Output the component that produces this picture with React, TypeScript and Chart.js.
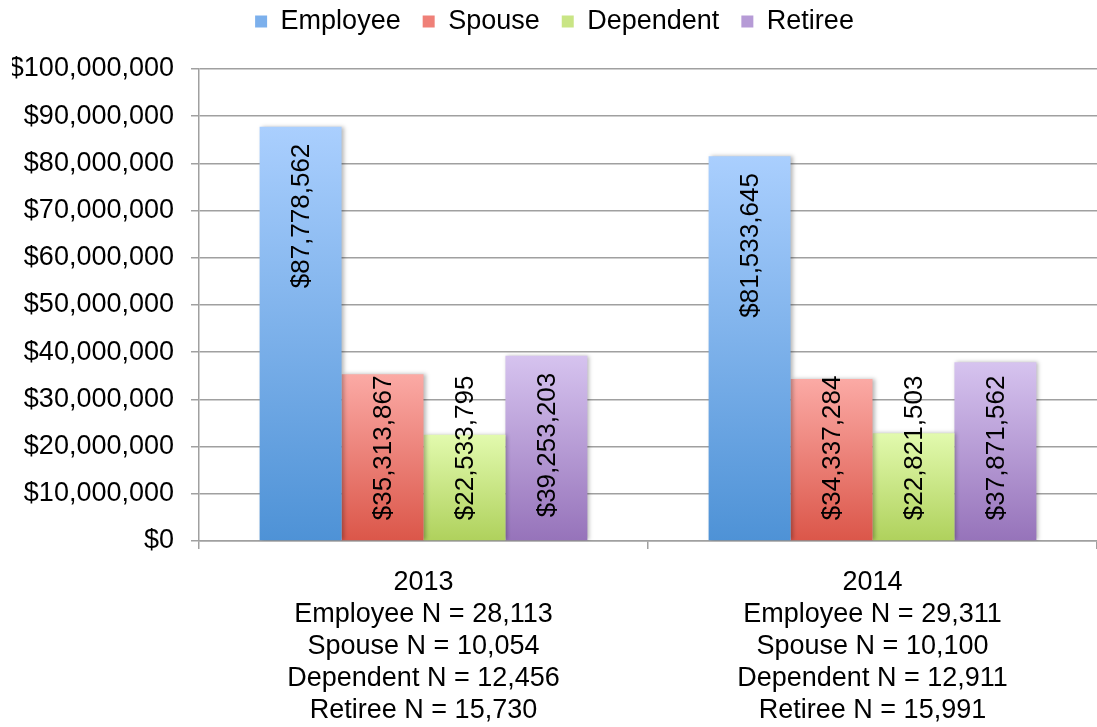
import React, { useEffect, useRef } from "react";
import { Chart, registerables } from "chart.js";

Chart.register(...registerables);

const years = ["2013", "2014"];
const employeeN = ["28,113", "29,311"];
const spouseN = ["10,054", "10,100"];
const dependentN = ["12,456", "12,911"];
const retireeN = ["15,730", "15,991"];

const seriesNames = ["Employee", "Spouse", "Dependent", "Retiree"];
const employee = [87778562, 81533645];
const spouse = [35313867, 34337284];
const dependent = [22533795, 22821503];
const retiree = [39253203, 37871562];

const gradTop = ["#aacffe", "#fbaaa5", "#e2faae", "#d6c3ef"];
const gradBottom = ["#4e92d6", "#db5649", "#afd15c", "#9673ba"];
const solid = ["#7cb0ec", "#ef8078", "#c9e585", "#b69bd6"];

const FONT = "'Liberation Sans', Arial, Helvetica, sans-serif";
const GRID = "#a0a0a0";

const fmtMoney = (v: number) => "$" + Math.round(v).toLocaleString("en-US");

export default function App() {
  const ref = useRef<HTMLCanvasElement | null>(null);

  useEffect(() => {
    const canvas = ref.current;
    if (!canvas) return;
    document.body.style.margin = "0";

    const labels = years.map((y, i) => [
      y,
      `Employee N = ${employeeN[i]}`,
      `Spouse N = ${spouseN[i]}`,
      `Dependent N = ${dependentN[i]}`,
      `Retiree N = ${retireeN[i]}`,
    ]);

    const values = [employee, spouse, dependent, retiree];

    const makeBg = (si: number) => (ctx: any) => {
      const chart = ctx.chart;
      const y = chart.scales?.y;
      if (!chart.chartArea || !y || ctx.raw == null) return solid[si];
      const top = y.getPixelForValue(ctx.raw);
      const base = y.getPixelForValue(0);
      if (!isFinite(top) || !isFinite(base) || top === base) return solid[si];
      const g = chart.ctx.createLinearGradient(0, top, 0, base);
      g.addColorStop(0, gradTop[si]);
      g.addColorStop(1, gradBottom[si]);
      return g;
    };

    const shadowPlugin = {
      id: "barShadow",
      beforeDatasetDraw(chart: any) {
        const c = chart.ctx;
        c.save();
        c.shadowColor = "rgba(0,0,0,0.28)";
        c.shadowBlur = 4;
        c.shadowOffsetX = 2;
        c.shadowOffsetY = 0;
      },
      afterDatasetDraw(chart: any) {
        chart.ctx.restore();
      },
    };

    const valueLabels = {
      id: "valueLabels",
      afterDatasetsDraw(chart: any) {
        const c = chart.ctx;
        c.save();
        c.font = `26px ${FONT}`;
        c.fillStyle = "#000";
        c.textAlign = "center";
        c.textBaseline = "middle";
        chart.data.datasets.forEach((ds: any, di: number) => {
          const meta = chart.getDatasetMeta(di);
          meta.data.forEach((el: any, i: number) => {
            const text = fmtMoney(ds.data[i]);
            const L = c.measureText(text).width;
            const top = el.y;
            const base = el.base;
            let center = top + 17 + L / 2;
            const maxCenter = base - 20 - L / 2;
            if (center > maxCenter) center = maxCenter;
            c.save();
            c.translate(el.x, center);
            c.rotate(-Math.PI / 2);
            c.fillText(text, 0, 1);
            c.restore();
          });
        });
        c.restore();
      },
    };

    const legendMargin = {
      id: "legendMargin",
      beforeInit(chart: any) {
        const legend = chart.legend;
        if (!legend) return;
        const origFit = legend.fit;
        legend.fit = function () {
          origFit.bind(legend)();
          this.height += 24;
        };
      },
    };

    const chart = new Chart(canvas, {
      type: "bar",
      data: {
        labels,
        datasets: seriesNames.map((name, si) => ({
          label: name,
          data: values[si],
          backgroundColor: makeBg(si),
          borderWidth: 0,
          categoryPercentage: 0.73,
          barPercentage: 1,
        })),
      },
      options: {
        responsive: false,
        animation: false,
        layout: { padding: { left: 12, right: 0, top: -14, bottom: 0 } },
        plugins: {
          tooltip: { enabled: false },
          legend: {
            position: "top",
            labels: {
              font: { family: FONT, size: 27 },
              color: "#000",
              boxWidth: 12,
              boxHeight: 12,
              padding: 22,
              generateLabels: () =>
                seriesNames.map((n, i) => ({
                  text: n,
                  fillStyle: solid[i],
                  strokeStyle: solid[i],
                  lineWidth: 0,
                  hidden: false,
                  datasetIndex: i,
                })),
            },
          },
        },
        scales: {
          x: {
            offset: true,
            afterFit: (s: any) => {
              s.height = 186;
            },
            grid: {
              display: true,
              drawOnChartArea: false,
              drawTicks: true,
              tickLength: 8,
              color: GRID,
              lineWidth: 1.5,
              offset: true,
            },
            border: { display: true, color: GRID, width: 1.5 },
            ticks: {
              color: "#000",
              font: { family: FONT, size: 27, lineHeight: 32 / 27 },
              maxRotation: 0,
              minRotation: 0,
              padding: 18,
              autoSkip: false,
            },
          },
          y: {
            min: 0,
            max: 100000000,
            afterFit: (s: any) => {
              s.width = 187;
            },
            grid: {
              color: GRID,
              lineWidth: 1.5,
              drawTicks: true,
              tickLength: 8,
            },
            border: { display: true, color: GRID, width: 1.5 },
            ticks: {
              stepSize: 10000000,
              color: "#000",
              font: { family: FONT, size: 27 },
              padding: 17,
              callback: (v: any) => fmtMoney(Number(v)),
            },
          },
        },
      },
      plugins: [legendMargin, shadowPlugin, valueLabels],
    });

    return () => chart.destroy();
  }, []);

  return (
    <div style={{ position: "fixed", left: 0, top: 0, width: 1097, height: 727 }}>
      <canvas ref={ref} width={1097} height={727} />
    </div>
  );
}
